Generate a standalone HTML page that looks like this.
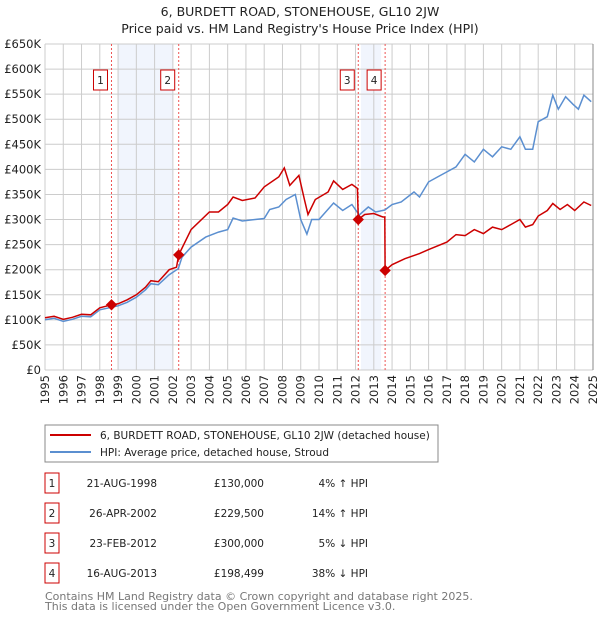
<!DOCTYPE html>
<html><head><meta charset="utf-8"><style>
body{margin:0;background:#fff;font-family:"DejaVu Sans","Liberation Sans",sans-serif;}
svg text{font-family:"DejaVu Sans","Liberation Sans",sans-serif;}
</style></head><body>
<svg id="chart" width="600" height="620" viewBox="0 0 600 620" xmlns="http://www.w3.org/2000/svg">
<text x="300" y="16" text-anchor="middle" font-size="12.5" fill="#222">6, BURDETT ROAD, STONEHOUSE, GL10 2JW</text>
<text x="300" y="33" text-anchor="middle" font-size="12.5" fill="#222">Price paid vs. HM Land Registry's House Price Index (HPI)</text>
<g id="shade"></g><g id="grid"></g><g id="vlines"></g><g id="series"></g><g id="axes"></g><g id="markers"></g>
<rect x="45" y="425" width="393" height="37" fill="#fff" stroke="#888"/>
<line x1="50" y1="435" x2="91" y2="435" stroke="#cc0000" stroke-width="2"/>
<text x="100" y="439" font-size="10.5" fill="#222">6, BURDETT ROAD, STONEHOUSE, GL10 2JW (detached house)</text>
<line x1="50" y1="452" x2="91" y2="452" stroke="#5b8fd0" stroke-width="2"/>
<text x="100" y="456" font-size="10.5" fill="#222">HPI: Average price, detached house, Stroud</text>
<g id="table" font-size="10.5" fill="#222"></g>
<text x="45" y="600" font-size="11" fill="#777">Contains HM Land Registry data © Crown copyright and database right 2025.</text>
<text x="45" y="610" font-size="11" fill="#777">This data is licensed under the Open Government Licence v3.0.</text>
</svg>
<script>
const hpiYears=[1995,1995.5,1996,1996.5,1997,1997.5,1998,1998.64,1999,1999.5,2000,2000.5,2000.8,2001.2,2001.8,2002.3,2002.5,2003,2003.8,2004.5,2005,2005.3,2005.8,2006.5,2007,2007.3,2007.8,2008.2,2008.7,2009.0,2009.34,2009.6,2010,2010.8,2011.3,2011.8,2012.2,2012.7,2013.1,2013.6,2014,2014.5,2015.2,2015.5,2016,2016.5,2017,2017.5,2018,2018.5,2019,2019.5,2020,2020.5,2021,2021.3,2021.7,2022,2022.5,2022.8,2023.1,2023.5,2023.9,2024.2,2024.5,2024.9];
const hpiValues=[100,103,97,101,107,106,120,125,128,135,145,160,172,170,190,202,225,245,265,275,280,303,297,300,302,320,325,340,350,300,271,300,300,333,318,330,309,325,315,319,330,335,355,345,375,385,395,405,430,415,440,425,445,440,465,440,440,495,505,548,520,545,530,520,548,535];
const redYears=[1995,1995.5,1996,1996.5,1997,1997.5,1998,1998.64,1999,1999.5,2000,2000.5,2000.8,2001.2,2001.8,2002.2,2002.32,2003,2004,2004.5,2005,2005.3,2005.8,2006.5,2007,2007.8,2008.1,2008.4,2008.9,2009.2,2009.4,2009.8,2010.5,2010.8,2011.3,2011.8,2012.1,2012.15,2012.5,2013,2013.5,2013.6,2013.62,2014,2014.7,2015.5,2016,2017,2017.5,2018,2018.5,2019,2019.5,2020,2020.5,2021,2021.3,2021.7,2022,2022.5,2022.8,2023.2,2023.6,2024,2024.5,2024.9];
const redValues=[104,107,101,105,111,110,124,130,132,140,150,165,178,176,200,205,229.5,280,315,315,330,345,338,343,365,385,403,368,388,340,310,340,355,377,360,370,362,300,310,312,305,305,198.5,210,222,232,240,255,270,268,280,272,285,280,290,300,285,290,307,318,332,320,330,318,335,328];
const yTicks=[0,50,100,150,200,250,300,350,400,450,500,550,600,650];
const yTickLabels=["£0","£50K","£100K","£150K","£200K","£250K","£300K","£350K","£400K","£450K","£500K","£550K","£600K","£650K"];
const xTicks=[1995,1996,1997,1998,1999,2000,2001,2002,2003,2004,2005,2006,2007,2008,2009,2010,2011,2012,2013,2014,2015,2016,2017,2018,2019,2020,2021,2022,2023,2024,2025];
const saleLabels=["1","2","3","4"];
const saleYears=[1998.64,2002.32,2012.15,2013.62];
const saleValues=[130,229.5,300,198.499];
const saleDates=["21-AUG-1998","26-APR-2002","23-FEB-2012","16-AUG-2013"];
const salePrices=["£130,000","£229,500","£300,000","£198,499"];
const saleHpi=["4% ↑ HPI","14% ↑ HPI","5% ↓ HPI","38% ↓ HPI"];
const shadeRanges=[[1999.0,2002.0],[2012.3,2013.4]];

const X=y=>45+(y-1995)*(548/30);
const Y=v=>370-v*(326/650);
const NS="http://www.w3.org/2000/svg";
function mk(tag,attrs,parent){const e=document.createElementNS(NS,tag);for(const k in attrs)e.setAttribute(k,attrs[k]);document.getElementById(parent).appendChild(e);return e;}

shadeRanges.forEach((r,i)=>{
 const e=mk('rect',{x:X(r[0]),y:44,width:X(r[1])-X(r[0]),height:326,fill:'#eef3fc',opacity:0.8},'shade');
 
 
});
yTicks.forEach((t,i)=>{
 const l=mk('line',{x1:45,x2:593,y1:Y(t),y2:Y(t),stroke:'#ccc','stroke-width':1},'grid');
 
 
 const tx=mk('text',{x:41,y:Y(t)+4,'text-anchor':'end','font-size':'11.5',fill:'#222'},'axes');
 tx.textContent=yTickLabels[i];
 
 
});
xTicks.forEach(t=>{
 const l=mk('line',{x1:X(t),x2:X(t),y1:44,y2:370,stroke:'#ccc','stroke-width':1},'grid');
 
 
 const tx=mk('text',{x:0,y:0,'text-anchor':'end','font-size':'11.5',fill:'#222',transform:`translate(${X(t)+4},375) rotate(-90)`},'axes');
 tx.textContent=t;
 
 
});
const ax=mk('line',{x1:593,x2:593,y1:44,y2:370,stroke:'#888'},'axes');


function path(xs,vs){return xs.map((x,i)=>(i?'L':'M')+X(x).toFixed(1)+','+Y(vs[i]).toFixed(1)).join(' ');}
const b=mk('path',{d:path(hpiYears,hpiValues),fill:'none',stroke:'#5b8fd0','stroke-width':1.5},'series');


const r=mk('path',{d:path(redYears,redValues),fill:'none',stroke:'#cc0000','stroke-width':1.5},'series');


saleYears.forEach((s,i)=>{
 const l=mk('line',{x1:X(s),x2:X(s),y1:44,y2:370,stroke:'#e55','stroke-width':1,'stroke-dasharray':'2,2'},'vlines');
 
 
 const bx=X(s)-4;
 const rc=mk('rect',{x:bx-14,y:70,width:14,height:20,fill:'#fff',stroke:'#cc0000'},'markers');
 
 
 const t=mk('text',{x:bx-7,y:84,'text-anchor':'middle','font-size':'10.5',fill:'#222'},'markers');
 t.textContent=saleLabels[i];
 
 
 const d=mk('rect',{x:X(s)-4,y:Y(saleValues[i])-4,width:8,height:8,fill:'#cc0000',transform:`rotate(45 ${X(s)} ${Y(saleValues[i])})`},'markers');
 
 
 const ry=473+i*30;
 const tb=mk('rect',{x:45,y:ry,width:14,height:20,fill:'#fff',stroke:'#cc0000'},'table');
 
 
 const cells=[[52,saleLabels[i],'middle'],[157,saleDates[i],'end'],[264,salePrices[i],'end'],[368,saleHpi[i],'end']];
 cells.forEach((c,j)=>{
  const te=mk('text',{x:c[0],y:ry+14,'text-anchor':c[2]},'table');
  te.textContent=c[1];
  
  
 });
});
</script>
</body></html>
